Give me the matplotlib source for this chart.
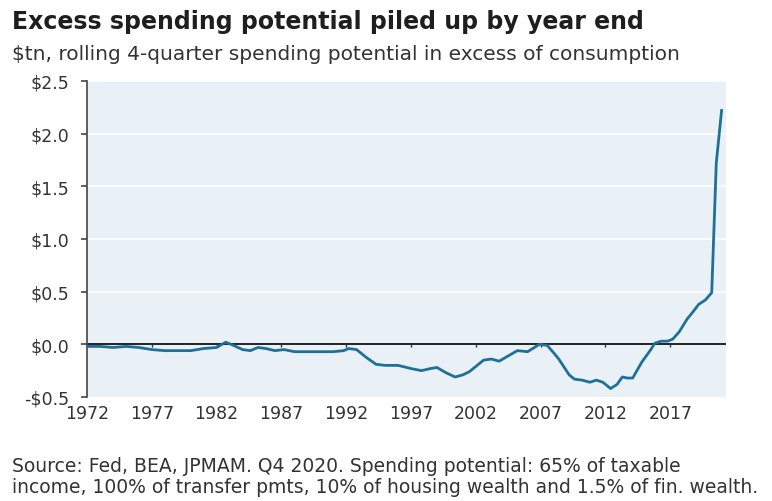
import matplotlib.pyplot as plt

plt.rcParams['font.family'] = ['DejaVu Sans']

# quarterly-ish readings, $tn
years = [1972.0, 1973.0, 1974.0, 1975.0, 1976.0, 1977.0, 1978.0, 1979.0, 1980.0, 1981.0,
         1982.0, 1982.7, 1983.3, 1984.0, 1984.6, 1985.2, 1985.8, 1986.5, 1987.2, 1988.0,
         1989.0, 1990.0, 1991.0, 1991.8, 1992.2, 1992.8, 1993.5, 1994.3, 1995.0, 1996.0,
         1997.0, 1997.8, 1998.5, 1999.0, 1999.7, 2000.4, 2001.0, 2001.5, 2002.6, 2003.2,
         2003.8, 2004.5, 2005.2, 2006.0, 2006.9, 2007.5, 2008.0, 2008.4, 2009.2, 2009.6,
         2010.2, 2010.8, 2011.3, 2011.8, 2012.4, 2012.9, 2013.3, 2013.7, 2014.1, 2014.8,
         2015.5, 2015.8, 2016.3, 2016.8, 2017.2, 2017.7, 2018.3, 2018.7, 2019.2, 2019.7,
         2020.2, 2020.55, 2020.96]
excess = [-0.02, -0.02, -0.03, -0.02, -0.03, -0.05, -0.06, -0.06, -0.06, -0.04,
          -0.03, 0.02, -0.01, -0.05, -0.06, -0.03, -0.04, -0.06, -0.05, -0.07,
          -0.07, -0.07, -0.07, -0.06, -0.04, -0.05, -0.12, -0.19, -0.20, -0.20,
          -0.23, -0.25, -0.23, -0.22, -0.27, -0.31, -0.29, -0.26, -0.15, -0.14,
          -0.16, -0.11, -0.06, -0.07, 0.00, -0.01, -0.08, -0.14, -0.29, -0.33,
          -0.34, -0.36, -0.34, -0.36, -0.42, -0.38, -0.31, -0.32, -0.32, -0.17,
          -0.05, 0.01, 0.03, 0.03, 0.05, 0.12, 0.24, 0.30, 0.38, 0.42,
          0.49, 1.72, 2.22]

xticks = [1972, 1977, 1982, 1987, 1992, 1997, 2002, 2007, 2012, 2017]
yticks = [-0.5, 0.0, 0.5, 1.0, 1.5, 2.0, 2.5]
ylabels = ['-$0.5', '$0.0', '$0.5', '$1.0', '$1.5', '$2.0', '$2.5']

fig = plt.figure(figsize=(7.72, 5.02), dpi=100)
ax = fig.add_axes([0.1127, 0.2072, 0.8277, 0.6295])
ax.set_facecolor('#e9f1f7')

for v in yticks[2:]:
    ax.axhline(v, color='white', lw=1.2, zorder=1)
ax.axhline(0, color='black', lw=1.2, zorder=2)
ax.vlines(xticks, -0.025, 0, color='#333333', lw=1, zorder=2)

ax.plot(years, excess, color='#1f7099', lw=2.0, zorder=3, solid_joinstyle='round')

ax.set_xlim(1972.1, 2021.3)
ax.set_ylim(-0.5, 2.5)
ax.set_yticks(yticks)
ax.set_yticklabels(ylabels)
ax.set_xticks(xticks)
ax.set_xticklabels([str(x) for x in xticks])
ax.tick_params(axis='y', length=4.5, width=1.2, color='#444444', labelsize=12.5,
               labelcolor='#333333', pad=8)
ax.tick_params(axis='x', length=0, labelsize=12.5, labelcolor='#333333', pad=5)
for s in ['top', 'right', 'bottom']:
    ax.spines[s].set_visible(False)
ax.spines['left'].set_color('#444444')
ax.spines['left'].set_linewidth(1.2)

fig.text(0.016, 0.942, 'Excess spending potential piled up by year end',
         fontsize=17, fontweight='bold', color='#1e1e1e', va='baseline')
fig.text(0.016, 0.880, '$tn, rolling 4-quarter spending potential in excess of consumption',
         fontsize=14.5, color='#333333', va='baseline')
fig.text(0.016, 0.060, 'Source: Fed, BEA, JPMAM. Q4 2020. Spending potential: 65% of taxable',
         fontsize=13.5, color='#333333', va='baseline')
fig.text(0.016, 0.018, 'income, 100% of transfer pmts, 10% of housing wealth and 1.5% of fin. wealth.',
         fontsize=13.5, color='#333333', va='baseline')

fig.savefig('out.png', dpi=100)
